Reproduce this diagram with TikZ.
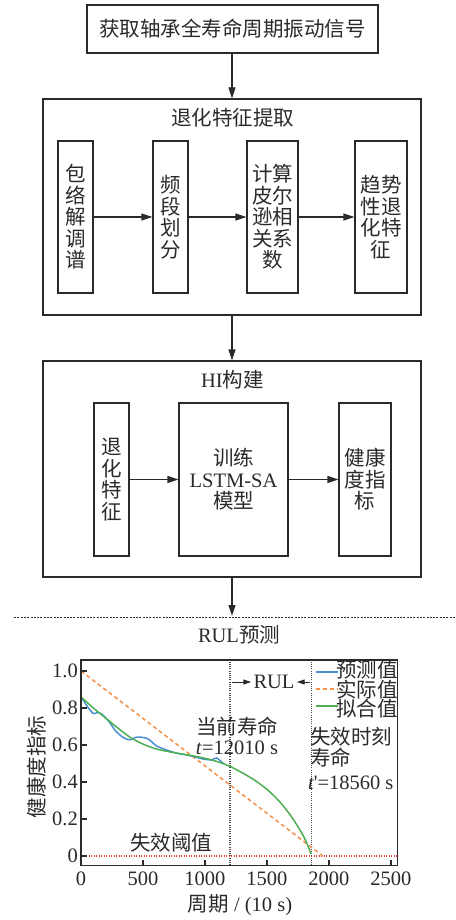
\documentclass[tikz,border=0pt]{standalone}
\usepackage{fontspec}
\setmainfont{Noto Sans CJK SC}
\newfontfamily\tnr{Liberation Serif}
\usetikzlibrary{arrows.meta}
\definecolor{cblue}{HTML}{4A8FD0}
\definecolor{corange}{HTML}{F5904A}
\definecolor{cgreen}{HTML}{4CAF50}
\definecolor{cred}{HTML}{E8403A}
\definecolor{ink}{HTML}{2A2A2A}
\begin{document}
\begin{tikzpicture}[x=1pt,y=-1pt,
  txt/.style={font=\fontsize{20.5pt}{21.5pt}\selectfont, text=ink, inner sep=0pt, align=center},
  box/.style={txt, draw=ink, line width=1.1pt},
  arr/.style={-{Triangle[length=11pt,width=7pt]}, line width=1.1pt, draw=ink},
  sarr/.style={-{Triangle[length=8pt,width=5pt]}, line width=1pt, draw=ink},
  vdot/.style={draw=black!70, line width=1.2pt, dash pattern=on 1pt off 1.2pt},
]
\useasboundingbox (0,0) rectangle (455,920);
% top
\node[box, minimum width=291pt, minimum height=48pt] (top) at (232.5,29) {获取轴承全寿命周期振动信号};
% block 2
\node[box, minimum width=378pt, minimum height=216pt] (fe) at (232,207) {};
\node[txt] (fet) at (232.5,118) {退化特征提取};
\node[box, minimum width=35pt, minimum height=152pt] (a) at (75.5,217) {包\\络\\解\\调\\谱};
\node[box, minimum width=35pt, minimum height=152pt] (b) at (170.5,217) {频\\段\\划\\分};
\node[box, minimum width=51pt, minimum height=152pt] (c) at (272.5,217) {计算\\皮尔\\逊相\\关系\\数};
\node[box, minimum width=52pt, minimum height=152pt] (d) at (381,217) {趋势\\性退\\化特\\征};
\draw[arr] (a) -- (b);
\draw[arr] (b) -- (c);
\draw[arr] (c) -- (d);
\draw[arr] (top.south -| fe.north) -- (fe.north);
% block 3
\node[box, minimum width=378pt, minimum height=216pt] (hi) at (232,469) {};
\node[txt] (hit) at (232.5,380) {{\tnr HI}构建};
\node[box, minimum width=35pt, minimum height=153pt] (e) at (111.5,479.5) {退\\化\\特\\征};
\node[box, minimum width=109pt, minimum height=153pt] (f) at (233.5,479.5) {训练\\{\tnr LSTM-SA}\\模型};
\node[box, minimum width=52pt, minimum height=153pt] (g) at (365,479.5) {健康\\度指\\标};
\draw[arr] (e) -- (f);
\draw[arr] (f) -- (g);
\draw[arr] (fe.south) -- (hi.north);
% separator
\coordinate (sepL) at (14,617);
\coordinate (sepR) at (455,617);
\coordinate (sepA) at (232,616);
\draw[draw=ink, line width=0.9pt, dash pattern=on 2pt off 1.3pt] (sepL) -- (sepR);
\draw[arr] (hi.south) -- (sepA);
% chart
\node[txt] (rt) at (239,635) {{\tnr RUL}预测};
\begin{scope}[shift={(81,856)}, x=0.124pt, y=185pt]
  \draw[cred, line width=1.3pt, dash pattern=on 1pt off 1.5pt] (0,0) -- (2550,0);
  \draw[vdot] (1201,-0.05) -- (1201,1.06);
  \draw[vdot] (1856,-0.05) -- (1856,1.06);
  \draw[corange, line width=1.5pt, dash pattern=on 4pt off 3pt] (0,1) -- (1950,0);
  \draw[cblue, line width=1.5pt] plot[smooth, tension=0.5] coordinates {(0,0.86) (60,0.80) (100,0.77) (130,0.775) (166,0.768) (234,0.72) (274,0.68) (341,0.64) (395,0.628) (435,0.64) (476,0.643) (543,0.632) (610,0.595) (690,0.573) (771,0.556) (852,0.546) (919,0.536) (986,0.524) (1054,0.52) (1094,0.53) (1147,0.50)};
  \draw[cgreen, line width=1.5pt] plot[smooth] coordinates {(0,0.86) (100,0.80) (200,0.745) (300,0.69) (400,0.64) (500,0.605) (600,0.58) (700,0.565) (800,0.553) (900,0.542) (1000,0.528) (1100,0.51) (1200,0.485) (1300,0.45) (1400,0.41) (1500,0.36) (1600,0.295) (1700,0.21) (1800,0.10) (1856,0.01)};
  \draw[ink, line width=1.2pt] (0,-0.05) rectangle (2550,1.06);
  \foreach \v in {0,0.2,0.4,0.6,0.8,1.0} \draw[ink, line width=1.1pt] (0,\v) -- ++(45,0);
  \foreach \x in {500,1000,1500,2000,2500} \draw[ink, line width=1.1pt] (\x,-0.05) -- ++(0,0.03);
\end{scope}
% tick labels
\foreach \v/\l in {0/0,0.2/0.2,0.4/0.4,0.6/0.6,0.8/0.8,1.0/1.0}
  \node[txt, anchor=east, font=\fontsize{20.5pt}{21.5pt}\selectfont\tnr] at (78,{856-185*\v}) {\l};
\foreach \x in {0,500,1000,1500,2000,2500}
  \node[txt, font=\fontsize{20.5pt}{21.5pt}\selectfont\tnr] at ({81+0.124*\x},879) {\x};
\node[txt, rotate=90] (yl) at (37,767) {健康度指标};
\node[txt] (xl) at (240,905) {周期{\tnr\ / (10 s)}};
% legend
\coordinate (lb1) at (316,672); \coordinate (lb2) at (338,672);
\coordinate (lo1) at (316,689); \coordinate (lo2) at (338,689);
\coordinate (lg1) at (316,706); \coordinate (lg2) at (338,706);
\draw[cblue, line width=1.5pt] (lb1) -- (lb2);
\draw[corange, line width=1.5pt, dash pattern=on 4pt off 3pt] (lo1) -- (lo2);
\draw[cgreen, line width=1.5pt] (lg1) -- (lg2);
\node[txt, anchor=west] (lt1) at (336,670) {预测值};
\node[txt, anchor=west] (lt2) at (336,690) {实际值};
\node[txt, anchor=west] (lt3) at (336,709) {拟合值};
% RUL
\coordinate (v1) at (232,682);
\coordinate (v2) at (310,682);
\node[txt, font=\fontsize{20.5pt}{21.5pt}\selectfont\tnr, inner sep=2pt] (rul) at (274,682) {RUL};
\draw[sarr] (v1) -- (rul.west);
\draw[sarr] (v2) -- (rul.east);
% annotations
\node[txt] (cur1) at (237,727) {当前寿命};
\node[txt, font=\fontsize{20.5pt}{21.5pt}\selectfont\tnr] (cur2) at (237,748) {\textit{t}=12010 s};
\node[txt, anchor=west] (f1) at (310,737) {失效时刻};
\node[txt, anchor=west] (f2) at (310,758) {寿命};
\node[txt, anchor=west, font=\fontsize{20.5pt}{21.5pt}\selectfont\tnr] (f3) at (308,783) {\textit{t}\kern-0.5pt\textquotesingle=18560 s};
\node[txt] (thr) at (171,843) {失效阈值};
\end{tikzpicture}
\end{document}
